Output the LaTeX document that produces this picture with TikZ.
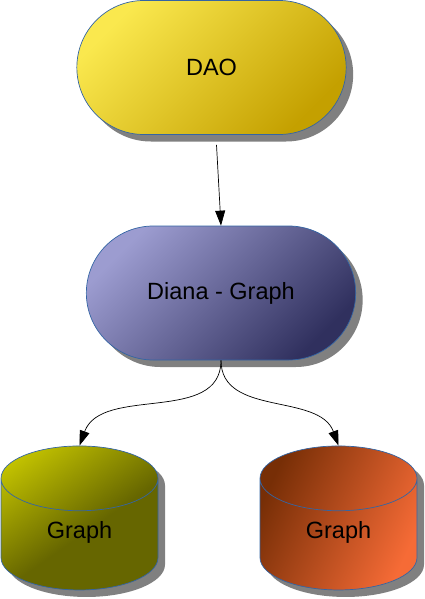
\documentclass[tikz,border=0pt]{standalone}
\usepackage{fontspec}
\setmainfont{Liberation Sans}
\usetikzlibrary{shapes.misc,shapes.geometric,shadows,arrows.meta}

% Colours of the picture
\definecolor{borderBlue}{HTML}{3465A4}
\definecolor{shadowGray}{HTML}{808080}
\definecolor{daoTop}{HTML}{FAE84E}
\definecolor{daoBottom}{HTML}{C4A000}
\definecolor{dianaTop}{HTML}{9C9CD0}
\definecolor{dianaBottom}{HTML}{30305E}
\definecolor{oliveTop}{HTML}{CCCC00}
\definecolor{oliveBottom}{HTML}{666600}
\definecolor{rustTop}{HTML}{772E06}
\definecolor{rustBottom}{HTML}{F66B36}

% Olive fade that stays dark over most of the store
\pgfdeclareverticalshading{oliveFade}{100bp}{color(0bp)=(oliveBottom); color(45bp)=(oliveBottom);
  color(82bp)=(oliveTop); color(100bp)=(oliveTop)}

\tikzset{
  boxline/.style={draw=borderBlue, line width=0.7pt,
    drop shadow={shadow xshift=7pt, shadow yshift=-7pt, fill=shadowGray, opacity=1},
    font=\fontsize{23.5}{28}\selectfont},
  flowbox/.style={boxline, rounded rectangle, minimum width=276pt, minimum height=134pt},
  store/.style={boxline, cylinder, shape border rotate=90, aspect=0.9,
    minimum width=157pt, minimum height=144pt},
  link/.style={line width=0.7pt, -{Triangle[length=15pt,width=10pt]}}
}

\begin{document}
\begin{tikzpicture}[x=1pt, y=-1pt]

    % Fix the page to the size of the reference
    \useasboundingbox (0,0) rectangle (425,599);

    % Top node
    \node[flowbox, top color=daoTop, bottom color=daoBottom, shading angle=45] (dao) at (211.5,67.5) {DAO};

    % Middle node
    \node[flowbox, top color=dianaTop, bottom color=dianaBottom, shading angle=45] (diana) at (221,293) {Diana - Graph};

    % The two stores
    \node[store, shading=oliveFade, shading angle=35] (graphL) at (79.5,539) {\raisebox{7pt}[\height][\depth]{Graph}};
    \node[store, top color=rustTop, bottom color=rustBottom, shading angle=65] (graphR) at (338.5,539) {\raisebox{7pt}[\height][\depth]{Graph}};

    % Draw the links
    \draw[link] ([xshift=5pt, yshift=-10pt]dao.south) -- (diana.north);
    \draw[link] (diana.south) to[out=-90, in=70] (graphL.north);
    \draw[link] (diana.south) to[out=-90, in=110] (graphR.north);

\end{tikzpicture}
\end{document}
